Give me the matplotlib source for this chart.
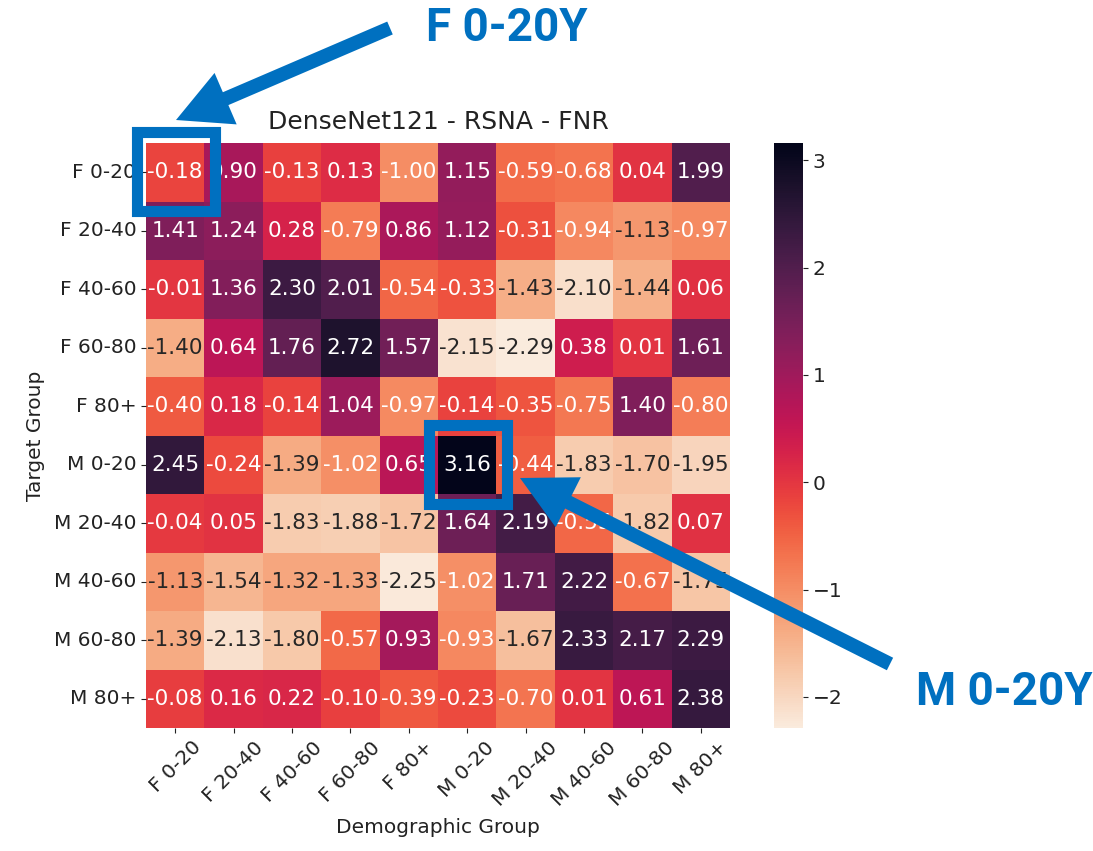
import matplotlib
matplotlib.use("Agg")
import matplotlib.pyplot as plt
import numpy as np
import seaborn as sns
from matplotlib.patches import Rectangle, FancyArrow

groups = ["F 0-20", "F 20-40", "F 40-60", "F 60-80", "F 80+",
          "M 0-20", "M 20-40", "M 40-60", "M 60-80", "M 80+"]

row_f0_20 = [-0.18, 0.90, -0.13, 0.13, -1.00, 1.15, -0.59, -0.68, 0.04, 1.99]
row_f20_40 = [1.41, 1.24, 0.28, -0.79, 0.86, 1.12, -0.31, -0.94, -1.13, -0.97]
row_f40_60 = [-0.01, 1.36, 2.30, 2.01, -0.54, -0.33, -1.43, -2.10, -1.44, 0.06]
row_f60_80 = [-1.40, 0.64, 1.76, 2.72, 1.57, -2.15, -2.29, 0.38, 0.01, 1.61]
row_f80p = [-0.40, 0.18, -0.14, 1.04, -0.97, -0.14, -0.35, -0.75, 1.40, -0.80]
row_m0_20 = [2.45, -0.24, -1.39, -1.02, 0.65, 3.16, -0.44, -1.83, -1.70, -1.95]
row_m20_40 = [-0.04, 0.05, -1.83, -1.88, -1.72, 1.64, 2.19, -0.55, -1.82, 0.07]
row_m40_60 = [-1.13, -1.54, -1.32, -1.33, -2.25, -1.02, 1.71, 2.22, -0.67, -1.75]
row_m60_80 = [-1.39, -2.13, -1.80, -0.57, 0.93, -0.93, -1.67, 2.33, 2.17, 2.29]
row_m80p = [-0.08, 0.16, 0.22, -0.10, -0.39, -0.23, -0.70, 0.01, 0.61, 2.38]

values = np.array([row_f0_20, row_f20_40, row_f40_60, row_f60_80, row_f80p,
                   row_m0_20, row_m20_40, row_m40_60, row_m60_80, row_m80p])

highlight_cells = [(0, 0), (5, 5)]  # (row, col)
callout_texts = ["F 0-20Y", "M 0-20Y"]

W, H = 1093, 851
fig = plt.figure(figsize=(W / 100, H / 100), dpi=100)
ax = fig.add_axes([146 / W, 1 - 728 / H, 584 / W, 585 / H])
cax = fig.add_axes([774 / W, 1 - 728 / H, 29 / W, 585 / H])

txt_col = "#222222"
sns.heatmap(values, ax=ax, cbar_ax=cax, cmap="rocket_r",
            annot=True, fmt=".2f", annot_kws={"fontsize": 15.5},
            xticklabels=groups, yticklabels=groups)

ax.set_title("DenseNet121 - RSNA - FNR", fontsize=18, color=txt_col, pad=10)
ax.set_xlabel("Demographic Group", fontsize=14.5, color=txt_col, labelpad=6)
ax.set_ylabel("Target Group", fontsize=14.5, color=txt_col, labelpad=6)
ax.tick_params(axis="both", labelsize=14.5, colors=txt_col)
plt.setp(ax.get_xticklabels(), rotation=45, ha="center")
plt.setp(ax.get_yticklabels(), rotation=0)
cax.tick_params(labelsize=14.5, colors=txt_col)

blue = "#0070C0"
for (r, c) in highlight_cells:
    ax.add_patch(Rectangle((c - 0.16, r - 0.18), 1.35, 1.35, fill=False,
                           edgecolor=blue, linewidth=8, clip_on=False, zorder=20))

over = fig.add_axes([0, 0, 1, 1], zorder=30)
over.set_xlim(0, W)
over.set_ylim(H, 0)
over.axis("off")
over.patch.set_visible(False)

arrows = [((390, 28), (176, 120)), ((890, 664), (520, 478))]
for (x0, y0), (x1, y1) in arrows:
    over.add_patch(FancyArrow(x0, y0, x1 - x0, y1 - y0, width=14, head_width=56,
                              head_length=54, length_includes_head=True,
                              color=blue, linewidth=0))

over.text(507, 28, callout_texts[0], color=blue, fontsize=33, fontweight="bold",
          family="Roboto", ha="center", va="center")
over.text(1004, 692, callout_texts[1], color=blue, fontsize=33, fontweight="bold",
          family="Roboto", ha="center", va="center")

fig.savefig("out.png", dpi=100, facecolor="white")
